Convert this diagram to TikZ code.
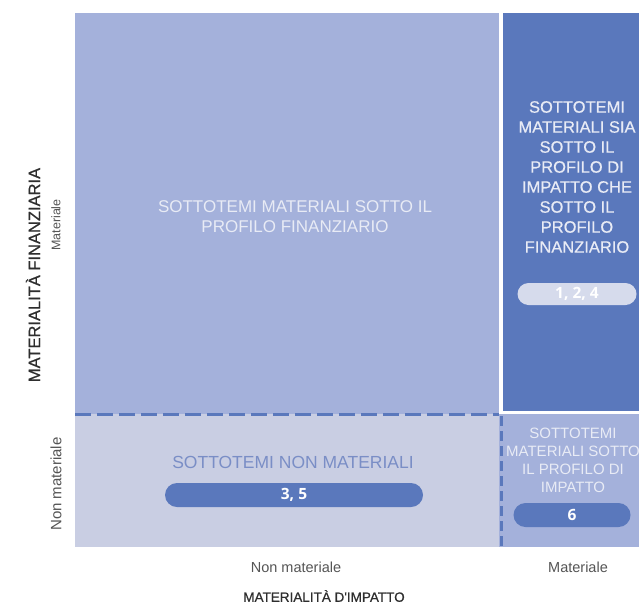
\documentclass[tikz,border=0pt]{standalone}
\usepackage{fontspec}
\setmainfont{Liberation Sans}
\newfontfamily\semib[FakeBold=0.6]{Liberation Sans}
\newfontfamily\pillfont{Open Sans}
\definecolor{qlight}{HTML}{A4B1DB}
\definecolor{qdark}{HTML}{5A78BC}
\definecolor{qpale}{HTML}{C9CEE3}
\definecolor{qpill}{HTML}{D6DBEC}
\definecolor{qtxt}{HTML}{E8EBF5}
\definecolor{qmid}{HTML}{7A8EC6}
\definecolor{axisg}{HTML}{555555}
\definecolor{axisd}{HTML}{2E2E2E}
\tikzset{
  pill/.style={rounded corners=11pt, inner sep=0pt, text=white, font=\pillfont\fontsize{15.5}{15.5}\selectfont\bfseries},
  hdash/.style={draw=qdark, line width=3pt, dash pattern=on 16pt off 6pt},
  vdash/.style={draw=qdark, line width=3pt, dash pattern=on 10pt off 5pt},
  axlab/.style={text=axisg},
  axtitle/.style={text=axisd},
  boxtext/.style={align=center, inner sep=0pt}
}
\begin{document}
\begin{tikzpicture}[x=1pt,y=-1pt]
\useasboundingbox (0,0) rectangle (639,605);
\fill[white] (0,0) rectangle (639,605);
% quadrants
\fill[qlight] (75,13) rectangle (499,414);
\fill[qpale] (75,414) rectangle (499,547);
\fill[qlight] (499,414) rectangle (639,547);
\fill[qdark] (503,13) rectangle (652,411);
\draw[white, line width=3pt] (501,13) -- (501,412.5) -- (652,412.5);
% dashed separators
\draw[hdash] (75,414) -- (499,414);
\draw[vdash] (501,416) -- (501,547);
% texts
\node[boxtext, text=qtxt, font=\fontsize{17}{20}\selectfont] (tl) at (295,217) {SOTTOTEMI MATERIALI SOTTO IL\\PROFILO FINANZIARIO};
\node[boxtext, text=qtxt, font=\semib\fontsize{16.5}{20}\selectfont] (tr) at (577,177) {SOTTOTEMI\\MATERIALI SIA\\SOTTO IL\\PROFILO DI\\IMPATTO CHE\\SOTTO IL\\PROFILO\\FINANZIARIO};
\node[boxtext, text=qmid, font=\fontsize{17.5}{17.5}\selectfont] (bl) at (293,462) {SOTTOTEMI NON MATERIALI};
\node[boxtext, text=qtxt, font=\fontsize{15}{18}\selectfont] (br) at (573,460) {SOTTOTEMI\\MATERIALI SOTTO\\IL PROFILO DI\\IMPATTO};
% pills
\node[pill, fill=qpill, minimum width=119pt, minimum height=22pt] (p124) at (577,294) {1, 2, 4};
\node[pill, fill=qdark, minimum width=258pt, minimum height=24pt, rounded corners=12pt] (p35) at (294,495) {3, 5};
\node[pill, fill=qdark, minimum width=117pt, minimum height=24pt, rounded corners=12pt] (p6) at (572,515) {6};
% axis labels
\node[axlab, font=\fontsize{14.5}{14.5}\selectfont] (xnm) at (296,567) {Non materiale};
\node[axlab, font=\fontsize{14.5}{14.5}\selectfont] (xm) at (578,567) {Materiale};
\node[axtitle, font=\semib\fontsize{13.5}{13.5}\selectfont] (xt) at (324,596) {MATERIALITÀ D'IMPATTO};
\node[axtitle, rotate=90, font=\semib\fontsize{16.5}{16.5}\selectfont] (yt) at (33,275) {MATERIALITÀ FINANZIARIA};
\node[axlab, rotate=90, font=\fontsize{12.5}{12.5}\selectfont] (ym) at (56,225) {Materiale};
\node[axlab, rotate=90, font=\fontsize{15}{15}\selectfont] (ynm) at (56,484) {Non materiale};
\end{tikzpicture}
\end{document}
